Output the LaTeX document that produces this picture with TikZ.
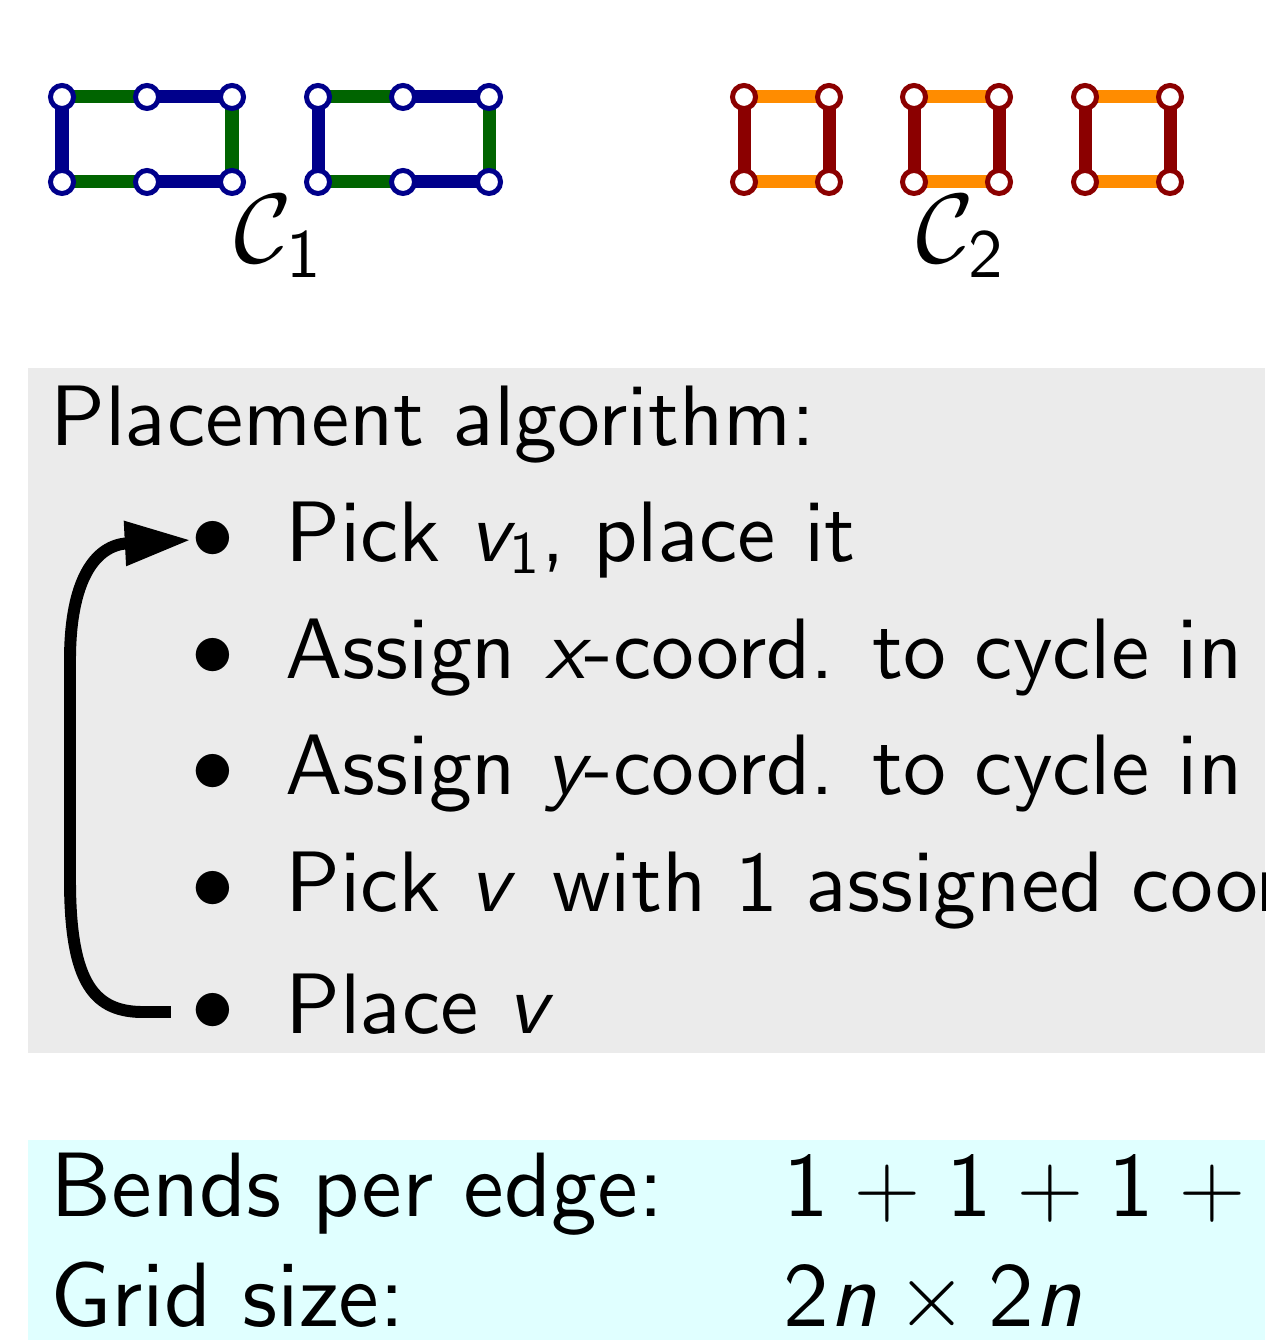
\documentclass[tikz,border=0pt]{standalone}
\usepackage[OT1]{fontenc}
\usepackage{fix-cm}
\usepackage{amsmath}
\usepackage{amssymb}
\usepackage{tikz}
\usetikzlibrary{arrows.meta}

% sans text in the 10pt design size at every size
\DeclareFontFamily{OT1}{cmssw}{}
\DeclareFontShape{OT1}{cmssw}{m}{n}{<-> cmss10}{}
\DeclareFontShape{OT1}{cmssw}{m}{sl}{<-> cmssi10}{}
\DeclareFontShape{OT1}{cmssw}{m}{it}{<->ssub * cmssw/m/sl}{}
\renewcommand{\sfdefault}{cmssw}

\definecolor{cycblue}{RGB}{0,0,139}
\definecolor{cycgreen}{RGB}{0,100,0}
\definecolor{cycorange}{RGB}{255,140,0}
\definecolor{cycred}{RGB}{139,0,0}
\definecolor{algogray}{RGB}{235,235,235}
\definecolor{resultcyan}{RGB}{224,255,255}

\pgfdeclarelayer{edges}
\pgfsetlayers{edges,main}

\begin{document}
\begin{tikzpicture}[x=0.01cm, y=0.01cm, font=\sffamily\fontsize{24.4}{29}\selectfont]
    \tikzstyle{every node}+=[inner sep=0pt]
    \tikzstyle{vtx}=[circle, draw=#1, fill=white, line width=1.42pt, minimum size=0.23cm]
    \tikzstyle{cyc}=[draw=#1, line width=3.7pt]
    \tikzstyle{setlabel}=[anchor=base, font=\sffamily\fontsize{28}{34}\selectfont]
    \tikzstyle{result}=[anchor=base west, font=\sffamily\fontsize{26}{31}\selectfont]
    \tikzstyle{loopback}=[draw=black, line width=3.4pt, shorten <=0.2cm, -{Triangle[length=0.66cm, width=0.42cm]}]
    \useasboundingbox (0,0) rectangle (1265,-1340);
    \clip (0,0) rectangle (1265,-1340);
    % boxes
    \fill [algogray] (28,-368) rectangle (1265,-1053);
    \fill [resultcyan] (28,-1140) rectangle (1265,-1340);
    % C_1: two 2x3 cycles
    \foreach \n/\x in {a/62, b/147, c/232, d/318, e/403, f/489} {
        \node [vtx=cycblue] (\n t) at (\x,-97) {};
        \node [vtx=cycblue] (\n b) at (\x,-182) {};
    }
    \begin{pgfonlayer}{edges}
    \foreach \p/\q/\r in {a/b/c, d/e/f} {
        \draw [cyc=cycgreen] (\p t.center) -- (\q t.center);
        \draw [cyc=cycblue] (\q t.center) -- (\r t.center);
        \draw [cyc=cycgreen] (\r t.center) -- (\r b.center);
        \draw [cyc=cycgreen] (\p b.center) -- (\q b.center);
        \draw [cyc=cycblue] (\q b.center) -- (\r b.center);
        \draw [cyc=cycblue] (\p t.center) -- (\p b.center);
    }
    \end{pgfonlayer}
    \node [setlabel] (cone) at (279,-263) {$\mathcal{C}_{\text{1}}$};
    % C_2: three 4-cycles
    \foreach \n/\x in {g/744, h/914, k/1085} {
        \node [vtx=cycred] (\n lt) at (\x,-97) {};
        \node [vtx=cycred] (\n rt) at (\x+85,-97) {};
        \node [vtx=cycred] (\n lb) at (\x,-182) {};
        \node [vtx=cycred] (\n rb) at (\x+85,-182) {};
        \begin{pgfonlayer}{edges}
        \draw [cyc=cycorange] (\n lt.center) -- (\n rt.center);
        \draw [cyc=cycorange] (\n lb.center) -- (\n rb.center);
        \draw [cyc=cycred] (\n lt.center) -- (\n lb.center);
        \draw [cyc=cycred] (\n rt.center) -- (\n rb.center);
        \end{pgfonlayer}
    }
    \node [setlabel] (ctwo) at (961,-263) {$\mathcal{C}_{\text{2}}$};
    % algorithm
    \node [anchor=base west] (algo) at (50,-446) {Placement algorithm:};
    \foreach \i/\y/\txt in {1/540/{Pick $\textsl{v}_{\text{1}}$, place it},
                            2/657/{Assign $\textsl{x}$-coord. to cycle in},
                            3/773/{Assign $\textsl{y}$-coord. to cycle in},
                            4/890/{Pick $\textsl{v}$\, with 1 assigned coord.},
                            5/1012/{Place $\textsl{v}$}} {
        \node (b\i) at (213,-\y) {$\bullet$};
        \node [anchor=base west] (t\i) at (285,-\y-21) {\txt};
    }
    \draw [loopback] (b5.west) -- ++(-45,0) .. controls (95,-1013) and (70,-985) .. (70,-880)
        -- (70,-660) .. controls (70,-580) and (95,-545) .. (b1.west);
    % results
    \node [result] (bends) at (50,-1216) {Bends per edge:};
    \node [result] (bendval) at (783,-1216) {\medmuskip=5mu $\text{1}+\text{1}+\text{1}+{}$};
    \node [result] (grid) at (50,-1326) {Grid size:};
    \node [result] (gridval) at (783,-1326) {$\text{2}\textsl{n}\times\text{2}\textsl{n}$};
\end{tikzpicture}
\end{document}
